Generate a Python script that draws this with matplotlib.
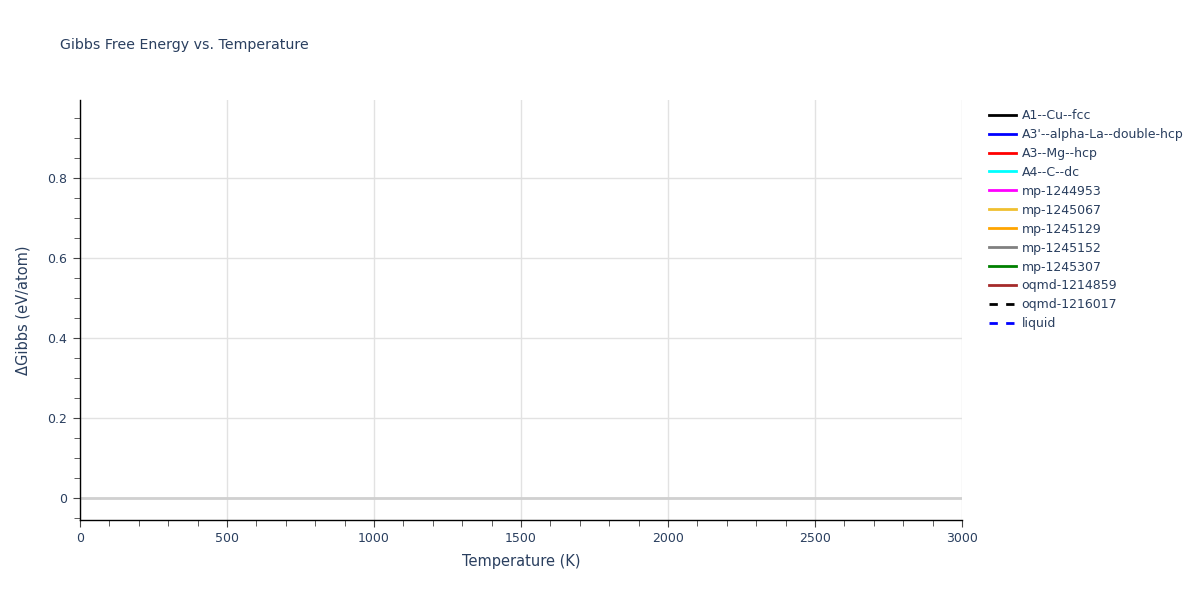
import matplotlib
matplotlib.use("Agg")
import matplotlib.pyplot as plt
from matplotlib.ticker import MultipleLocator

# Data: series names, colors, styles; the reference shows no visible data points
series_names = ["A1--Cu--fcc", "A3'--alpha-La--double-hcp", "A3--Mg--hcp", "A4--C--dc",
                "mp-1244953", "mp-1245067", "mp-1245129", "mp-1245152", "mp-1245307",
                "oqmd-1214859", "oqmd-1216017", "liquid"]
series_colors = ["black", "blue", "red", "cyan", "magenta", "#f0c030", "orange", "gray",
                 "green", "brown", "black", "blue"]
series_dashed = [False] * 10 + [True, True]
temperatures = []   # no visible points in the reference
gibbs_values = []

text_color = "#2a3f5f"
plt.rcParams['font.family'] = ['DejaVu Sans']

fig = plt.figure(figsize=(12, 6), dpi=100)
ax = fig.add_axes([80/1200, 80/600, (962-80)/1200, 420/600])

handles = []
for name, col, dashed in zip(series_names, series_colors, series_dashed):
    h, = ax.plot(temperatures, gibbs_values, color=col, lw=2,
                 ls=(0, (3, 3)) if dashed else '-', label=name)
    handles.append(h)

ax.set_xlim(0, 3000)
ax.set_ylim(-0.055, 0.995)
ax.xaxis.set_major_locator(MultipleLocator(500))
ax.xaxis.set_minor_locator(MultipleLocator(100))
ax.yaxis.set_major_locator(MultipleLocator(0.2))
ax.yaxis.set_minor_locator(MultipleLocator(0.05))
ax.grid(True, which='major', color='#e2e2e2', lw=1)
ax.axhline(0, color='#d0d0d0', lw=2, zorder=1)
ax.set_axisbelow(True)
for s in ['top', 'right']:
    ax.spines[s].set_visible(False)
for s in ['left', 'bottom']:
    ax.spines[s].set_color('black')
    ax.spines[s].set_linewidth(1)
ax.tick_params(which='both', direction='out', color='#444444', labelcolor=text_color, labelsize=9)
ax.tick_params(which='major', length=5, pad=4)
ax.tick_params(which='minor', length=4)

def ylab(v, p):
    return "0" if abs(v) < 1e-9 else f"{v:.1f}"
ax.yaxis.set_major_formatter(plt.FuncFormatter(ylab))

ax.set_xlabel("Temperature (K)", color=text_color, fontsize=10.5, labelpad=6)
ax.set_ylabel("ΔGibbs (eV/atom)", color=text_color, fontsize=10.5, labelpad=12)
fig.text(60/1200, 1 - 45/600, "Gibbs Free Energy vs. Temperature", color=text_color,
         fontsize=10.2, va='center', ha='left')

leg = fig.legend(handles=handles, loc='upper left', bbox_to_anchor=(984/1200, 1 - 104/600),
                 frameon=False, fontsize=9, handlelength=2.2, labelspacing=0.475,
                 handletextpad=0.4, borderaxespad=0)
for t in leg.get_texts():
    t.set_color(text_color)

fig.savefig("out.png", dpi=100)
